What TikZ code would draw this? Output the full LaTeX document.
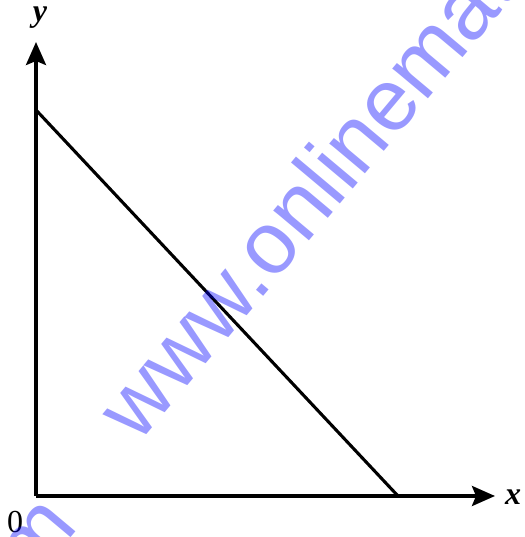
\documentclass[tikz,border=0pt]{standalone}
\usepackage{fontspec}
\setmainfont{Liberation Serif}
\newfontfamily\wmfont{Liberation Sans}
\usetikzlibrary{arrows.meta}
\tikzset{
  axisline/.style={line width=3.4pt, -{Stealth[length=23pt,width=20pt,inset=4pt]}},
  graphline/.style={line width=3.1pt},
  axislabel/.style={font=\fontsize{32}{32}\selectfont\bfseries\itshape, inner sep=0pt},
  originlabel/.style={font=\fontsize{32}{32}\selectfont, inner sep=0pt},
  watermark/.style={font=\fontsize{88}{88}\wmfont, text=blue, text opacity=0.4, inner sep=0pt, rotate=50}
}
\begin{document}
\begin{tikzpicture}[x=1pt,y=1pt]
\useasboundingbox (0,0) rectangle (524,537);
\coordinate (O) at (36,41);
\coordinate (ytip) at (36,495);
\coordinate (xtip) at (495,41);
\coordinate (A) at (36,427);
\coordinate (B) at (398,41);
\draw[axisline] (O) -- (ytip);
\draw[axisline] (O) -- (xtip);
\draw[graphline] (A) -- (B);
\node[axislabel] (ylab) at (40,519) {y};
\node[axislabel] (xlab) at (513,40) {x};
\node[originlabel] (zero) at (15,15) {0};
\begin{scope}
\clip (0,0) rectangle (524,537);
\node[watermark, anchor=base west] (wm1) at (138.5,92.5) {www.onlinemathlearning.com};
\node[watermark, anchor=base east] (wm0) at (80,10) {onlinemathlearning.com};
\end{scope}
\end{tikzpicture}
\end{document}
